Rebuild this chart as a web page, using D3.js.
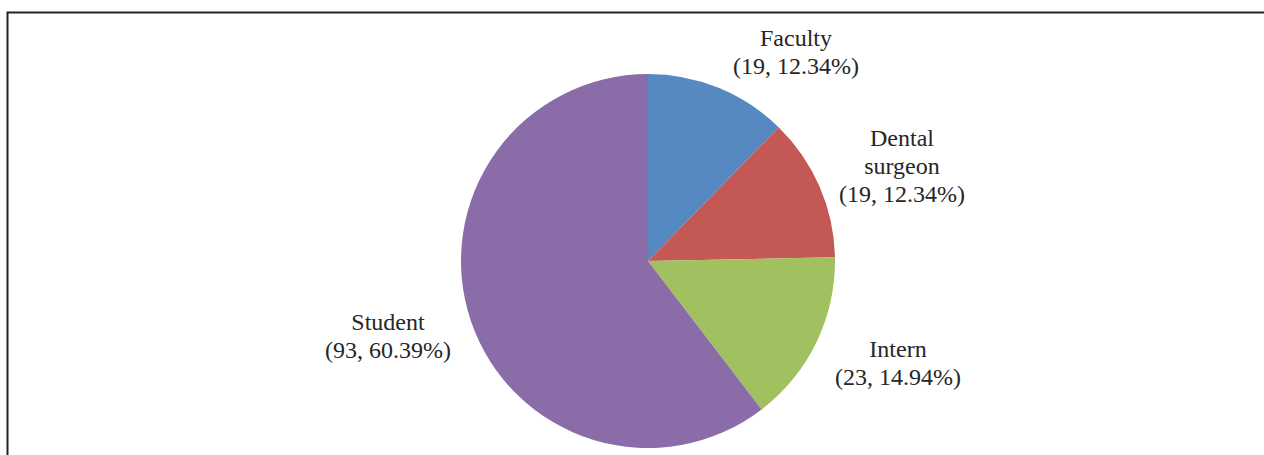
<!DOCTYPE html>
<html>
<head>
<meta charset="utf-8">
<script src="https://cdn.jsdelivr.net/npm/d3@7"></script>
<style>
  body { margin: 0; background: #fff; }
  svg text { font-family: "Liberation Serif", "DejaVu Serif", serif; fill: #262626; }
</style>
</head>
<body>
<svg id="chart" width="1264" height="455"></svg>
<script>
// values
const categories = ["Faculty", "Dental surgeon", "Intern", "Student"];
const counts = [19, 19, 23, 93];
const percents = ["12.34%", "12.34%", "14.94%", "60.39%"];
const colors = ["#5689c2", "#c45854", "#a1c060", "#8a6da8"];

// label lines as they are broken in the picture
const labelLines = [
  ["Faculty"],
  ["Dental", "surgeon"],
  ["Intern"],
  ["Student"]
];

const svg = d3.select("#chart");

// outer frame (only top and left edges show)
svg.append("path")
  .attr("d", "M7.5,460 L7.5,12.5 L1270,12.5")
  .attr("fill", "none")
  .attr("stroke", "#222")
  .attr("stroke-width", 2);

const cx = 648, cy = 261, r = 187;

const pie = d3.pie().sort(null).value(d => d)(counts);
const arc = d3.arc().innerRadius(0).outerRadius(r);

const g = svg.append("g").attr("transform", `translate(${cx},${cy})`);

g.selectAll("path.slice")
  .data(pie)
  .join("path")
  .attr("class", "slice")
  .attr("d", arc)
  .attr("fill", (d, i) => colors[i]);

// label anchor positions (centre of label block, relative to pie centre)
const labelPos = [
  [148, -209],
  [254, -95],
  [250, 102],
  [-260, 75]
];

const lh = 28;
categories.forEach((c, i) => {
  const lines = labelLines[i].concat([`(${counts[i]}, ${percents[i]})`]);
  const t = g.append("text")
    .attr("text-anchor", "middle")
    .attr("font-size", 24);
  const y0 = labelPos[i][1] - (lines.length - 1) * lh / 2;
  lines.forEach((ln, j) => {
    t.append("tspan")
      .attr("x", labelPos[i][0])
      .attr("y", y0 + j * lh)
      .attr("dy", "0.35em")
      .text(ln);
  });
});
</script>
</body>
</html>
